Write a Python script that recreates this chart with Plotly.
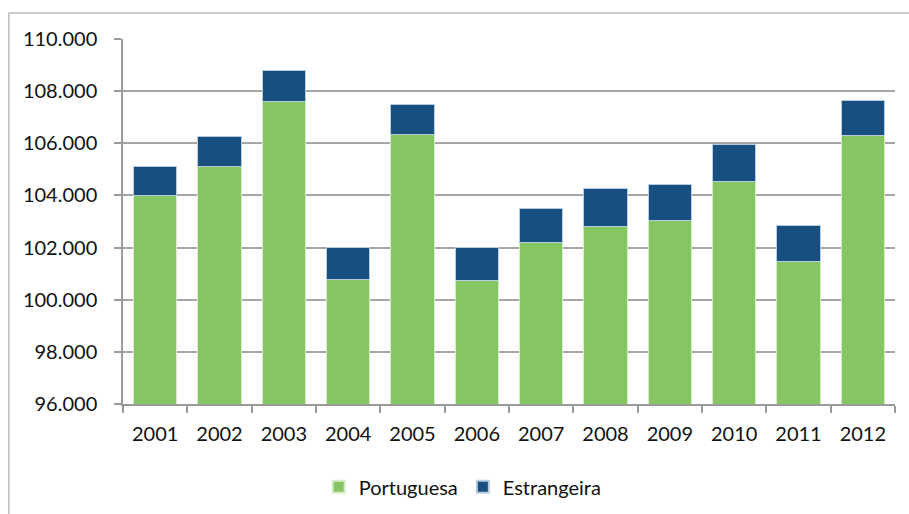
import plotly.graph_objects as go

anos = ["2001", "2002", "2003", "2004", "2005", "2006", "2007", "2008", "2009", "2010", "2011", "2012"]
portuguesa = [104000, 105100, 107620, 100770, 106350, 100730, 102210, 102810, 103020, 104530, 101450, 106310]
estrangeira = [1100, 1160, 1190, 1230, 1130, 1270, 1300, 1470, 1410, 1440, 1390, 1320]
y_ticks = [96000, 98000, 100000, 102000, 104000, 106000, 108000, 110000]

FONT = "Lato, Carlito, 'Open Sans', sans-serif"
FS = 20

fig = go.Figure()
fig.add_trace(go.Bar(
    x=anos, y=portuguesa, name="Portuguesa",
    marker=dict(color="#86C662", line=dict(color="#d6ebc9", width=1)),
))
fig.add_trace(go.Bar(
    x=anos, y=estrangeira, name="Estrangeira",
    marker=dict(color="#164F80", line=dict(color="#b9cde0", width=1)),
))

fig.update_layout(
    barmode="stack",
    bargap=0.33,
    width=909, height=514,
    margin=dict(l=123, r=14, t=39, b=110, autoexpand=False),
    paper_bgcolor="white",
    plot_bgcolor="white",
    separators=",.",
    font=dict(family=FONT, size=FS, color="#111111"),
    showlegend=True,
    legend=dict(
        orientation="h", x=0.44, xanchor="center", y=-0.227, yanchor="middle",
        font=dict(family=FONT, size=FS, color="#111111"),
        itemsizing="constant", traceorder="normal",
    ),
    xaxis=dict(
        type="category",
        showgrid=False,
        showline=True, linecolor="#9a9a9a", linewidth=1.5,
        ticks="outside", tickson="boundaries", ticklen=7, tickcolor="#9a9a9a", tickwidth=1.5,
        ticklabelstandoff=11,
        tickfont=dict(family=FONT, size=FS, color="#111111"),
    ),
    yaxis=dict(
        range=[96000, 110000],
        tickvals=y_ticks,
        tickformat=",.0f",
        showgrid=True, gridcolor="#a6a6a6", gridwidth=1.5,
        showline=True, linecolor="#9a9a9a", linewidth=1.5,
        ticks="outside", ticklen=7, tickcolor="#9a9a9a", tickwidth=1.5,
        ticklabelstandoff=13,
        tickfont=dict(family=FONT, size=FS, color="#111111"),
        zeroline=False,
    ),
    shapes=[
        dict(type="line", xref="paper", yref="paper", x0=-0.148, x1=1.05, y0=1.0712, y1=1.0712,
             line=dict(color="#bdbdbd", width=1.5)),
        dict(type="line", xref="paper", yref="paper", x0=-0.148, x1=-0.148, y0=1.0712, y1=-0.35,
             line=dict(color="#bdbdbd", width=1.5)),
    ],
)

fig.write_html("out.html", config={"displayModeBar": False},
               post_script="document.body.style.margin='0';")
